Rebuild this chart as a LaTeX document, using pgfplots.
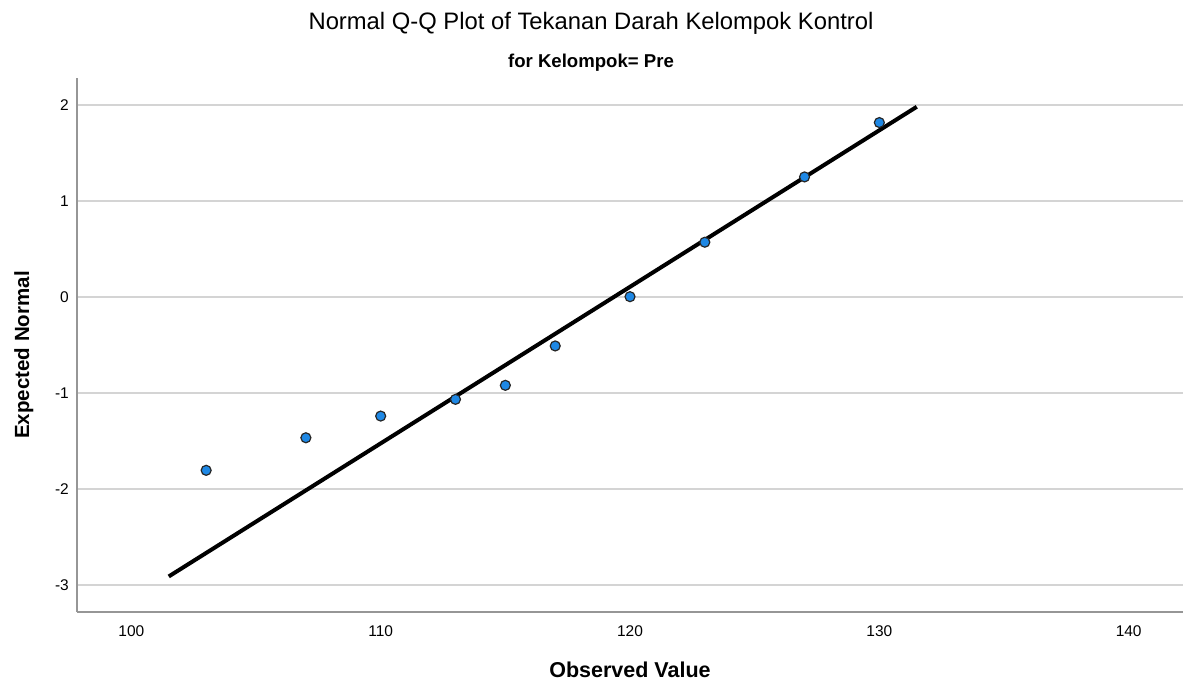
\documentclass[border=0pt]{standalone}
\usepackage{pgfplots}
\pgfplotsset{compat=1.18}
\usepackage{fontspec}
\setmainfont{Liberation Sans}
\definecolor{spssblue}{RGB}{30,136,229}
\definecolor{gridgray}{RGB}{212,212,212}
\definecolor{spinegray}{RGB}{150,150,150}
\begin{document}
\begin{tikzpicture}[x=1pt,y=1pt]
\path[use as bounding box] (0,0) rectangle (1192,685);
% titles
\node[anchor=base,font=\fontsize{23.8}{27}\selectfont] at (591,655) {Normal Q-Q Plot of Tekanan Darah Kelompok Kontrol};
\node[anchor=base,font=\fontsize{18.6}{21}\selectfont\bfseries] at (591,617) {for Kelompok= Pre};
\begin{axis}[
    at={(77pt,73pt)}, anchor=south west,
    scale only axis,
    width=1106pt, height=534pt,
    xmin=97.82, xmax=142.18,
    ymin=-3.28, ymax=2.28,
    xtick={100,110,120,130,140},
    ytick={-3,-2,-1,0,1,2},
    axis x line*=bottom, axis y line*=left,
    axis line style={spinegray, line width=2pt, -},
    major tick length=0pt,
    ymajorgrids,
    grid style={gridgray, line width=1.8pt},
    /pgf/number format/assume math mode=true,
    xticklabel style={font=\fontsize{15.5}{18}\selectfont, anchor=north, inner sep=0pt, yshift=-13pt},
    yticklabel style={font=\fontsize{15.5}{18}\selectfont, anchor=east, inner sep=0pt, xshift=-8pt},
    clip=false,
]
% fitted normal line
\addplot[black, line width=4pt] coordinates {(101.5,-2.91) (131.5,1.98)};
% observed points
\addplot[only marks, mark=*, mark size=5pt, mark options={fill=spssblue, draw=black!85, line width=1.2pt}]
table {
103 -1.805
107 -1.466
110 -1.240
113 -1.066
115 -0.920
117 -0.510
120 0.003
123 0.570
127 1.250
130 1.816
};
\end{axis}
\node[anchor=base,font=\fontsize{21.5}{24}\selectfont\bfseries] at (630,7) {Observed Value};
\node[anchor=base,rotate=90,font=\fontsize{20.5}{24}\selectfont\bfseries] at (29,330) {Expected Normal};
\end{tikzpicture}
\end{document}
